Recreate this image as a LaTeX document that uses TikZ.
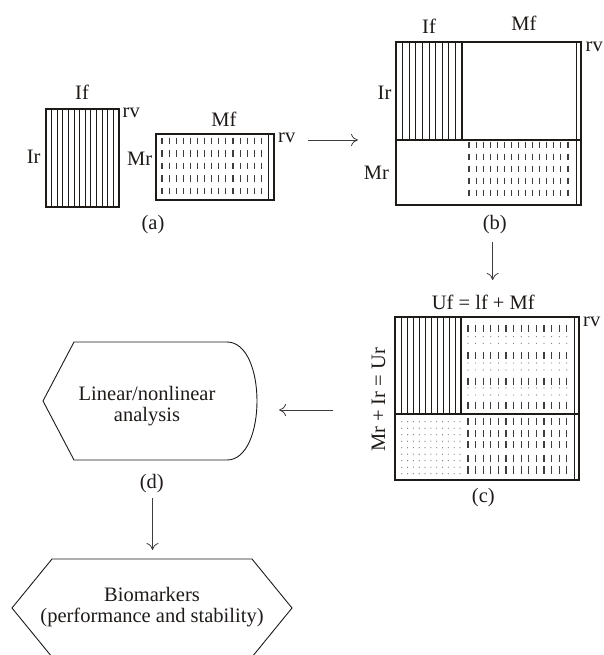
\documentclass[tikz,border=0pt]{standalone}
\usepackage{fontspec}
\setmainfont{Liberation Serif}
\usetikzlibrary{arrows.meta}
\definecolor{ink}{RGB}{30,26,24}
\begin{document}
\begin{tikzpicture}[x=1pt,y=-1pt,
  lbl/.style={text=ink,font=\fontsize{20.5}{20.5}\selectfont,inner sep=0pt},
  bl/.style={lbl,anchor=base},
  box/.style={draw=ink,line width=1.1pt},
  hatch/.style={draw=ink,line width=0.7pt},
  dsh/.style={draw=ink!85,line width=1.1pt},
  dotm/.style={fill=ink!60},
  arr/.style={draw=ink!85,line width=0.8pt,-{Computer Modern Rightarrow[length=7pt,width=12pt]}}]
\useasboundingbox (0,0) rectangle (604,655);

% ---------- (a) ----------
\foreach \k in {1,...,12} \draw[hatch] ({46+\k*5.6},109) -- ++(0,98);
\draw[box] (46,109) rectangle (119,207);
\node[bl] (aIf) at (82,99.3) {If};
\node[bl,anchor=base west] (arv1) at (122.5,117.7) {rv};
\node[bl] (aIr) at (33.7,163.3) {Ir};
\foreach \i in {0,...,14}
  \foreach \yy in {141,153.3,166,178.3,191}
    \draw[dsh] ({162+\i*7.1},\yy-3.3) -- ++(0,6.6);
\draw[box] (156,134) rectangle (274,200);
\draw[hatch] (268,134) -- (268,200);
\node[bl] (aMf) at (224,126.7) {Mf};
\node[bl,anchor=base west] (arv2) at (278,142.7) {rv};
\node[bl] (aMr) at (139.7,166) {Mr};
\node[bl] (la) at (153,229.5) {(a)};

\coordinate (ab1) at (308,140);
\coordinate (ab2) at (358,140);
\draw[arr] (ab1) -- (ab2);

% ---------- (b) ----------
\foreach \k in {1,...,9} \draw[hatch] ({396+\k*6.6},42) -- ++(0,98);
\foreach \i in {0,...,14}
  \foreach \yy in {145,157,169,181,193}
    \draw[dsh] ({469+\i*7.07},\yy-3.3) -- ++(0,6.6);
\draw[box] (396,42) rectangle (581,205);
\draw[box] (396,140) -- (581,140);
\draw[box] (462,42) -- (462,140);
\draw[hatch] (576,42) -- (576,205);
\node[bl] (bIf) at (429,33.3) {If};
\node[bl] (bMf) at (524,30.7) {Mf};
\node[bl,anchor=base west] (brv) at (585.5,51.7) {rv};
\node[bl] (bIr) at (384.5,99.3) {Ir};
\node[bl] (bMr) at (376.5,179.3) {Mr};
\node[bl] (lb) at (494.7,229.5) {(b)};

\coordinate (bc1) at (492.7,242);
\coordinate (bc2) at (492.7,280);
\draw[arr] (bc1) -- (bc2);

% ---------- (c) ----------
\foreach \k in {1,...,10} \draw[hatch] ({395+\k*6},317) -- ++(0,97);
\foreach \i in {0,...,13} {
  \foreach \yy in {328,355,381,405}
    \draw[dsh] ({468+\i*7.6},\yy-3.5) -- ++(0,7);
  \foreach \yy in {336.7,343.3,363,370,388,395}
    \fill[dotm] ({468+\i*7.6},\yy) circle (0.6);
  \foreach \yy in {421.7,433.3,444.8,458.3,470}
    \draw[dsh] ({468+\i*7.6},\yy-3.6) -- ++(0,7.2);
}
\foreach \i in {0,...,10}
  \foreach \j in {0,...,8}
    \fill[dotm] ({401.7+\i*5.83},{421.7+\j*6.5}) circle (0.6);
\draw[box] (395,317) rectangle (579,480);
\draw[box] (395,414) -- (579,414);
\draw[box] (461,317) -- (461,414);
\draw[hatch] (574,317) -- (574,480);
\node[bl] (cUf) at (483.3,309.3) {Uf = lf + Mf};
\node[bl,anchor=base west] (crv) at (583,326.7) {rv};
\node[bl,rotate=90] (cUr) at (385,400) {Mr + Ir = Ur};
\node[bl] (lc) at (483.3,502) {(c)};

\coordinate (cd1) at (333,410);
\coordinate (cd2) at (279,410);
\draw[arr] (cd1) -- (cd2);

% ---------- (d) ----------
\draw[box,line width=0.9pt] (74,342) -- (227,342) .. controls (267,342) and (267,460) .. (227,460)
  -- (74,460) -- (43,401) -- cycle;
\node[lbl,align=center] (dtext) at (147,406.2) {Linear/nonlinear\\analysis};
\node[bl] (ld) at (151.7,488) {(d)};

\coordinate (de1) at (152.5,498);
\coordinate (de2) at (152.5,550);
\draw[arr] (de1) -- (de2);

% ---------- (e) ----------
\draw[box,line width=0.9pt] (52,559) -- (252,559) -- (292,608) -- (252,657) -- (52,657) -- (12,608) -- cycle;
\node[lbl,align=center] (etext) at (152,607.2) {Biomarkers\\(performance and stability)};
\end{tikzpicture}
\end{document}
